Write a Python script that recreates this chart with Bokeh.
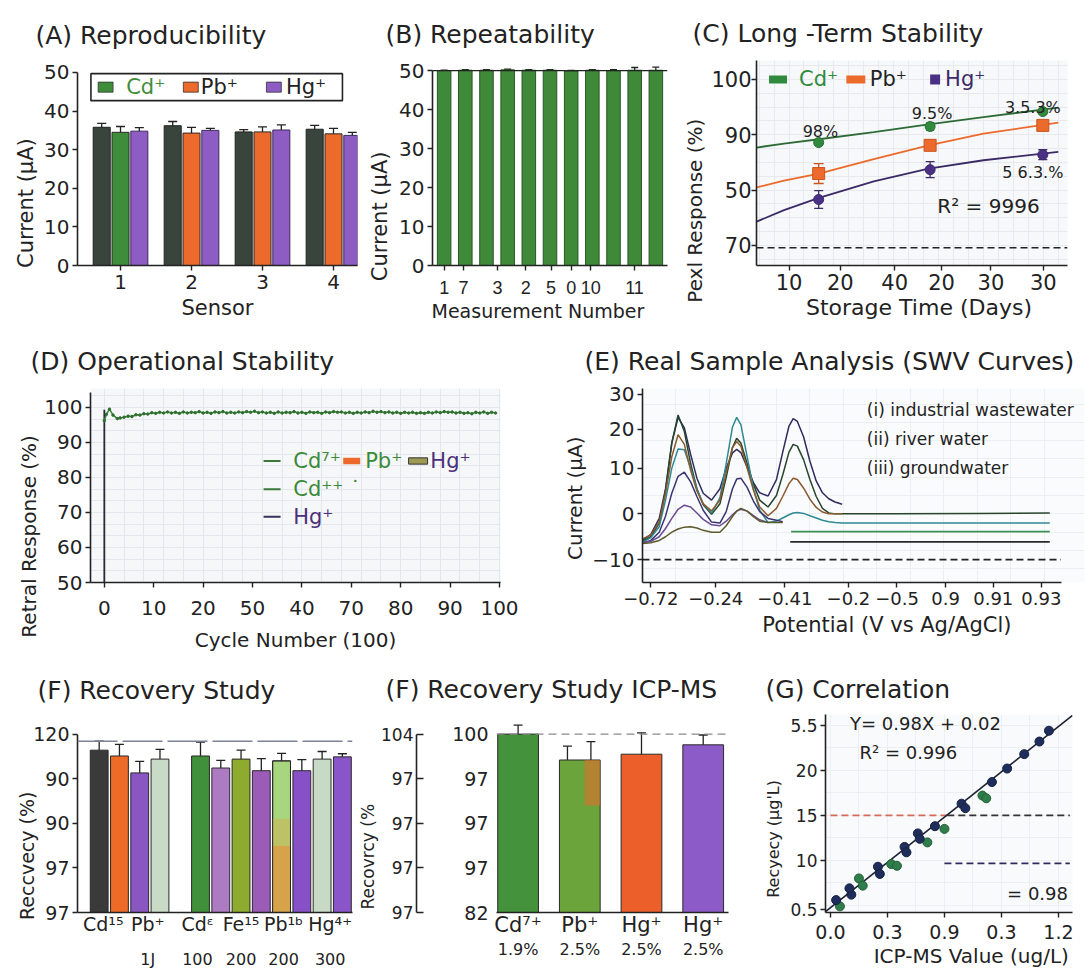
import numpy as np
from bokeh.plotting import figure
from bokeh.layouts import column, row
from bokeh.models import (Range1d, FixedTicker, SingleIntervalTicker, LinearAxis,
                          Whisker, TeeHead, ColumnDataSource, Span)
from bokeh.embed import file_html
from bokeh.resources import INLINE
from bokeh.core.properties import value

FONT = "DejaVu Sans"
INK = "#222222"
GREEN = "#3f8d3b"
DARK = "#39453c"
ORANGE = "#ec6a2b"
PURPLE = "#8e5dc4"
NB = "\u00a0"
MINUS = "\u2212"
nan = float("nan")

# ---------------- data ----------------
# (A) Reproducibility
a_sensor = [1, 2, 3, 4]
a_ref = [35.8, 36.2, 34.6, 35.3]
a_ref_err = [1.0, 1.1, 0.6, 1.0]
a_mid = [34.5, 34.3, 34.6, 34.1]
a_mid_err = [1.5, 1.5, 1.3, 1.4]
a_mid_colors = [GREEN, ORANGE, ORANGE, ORANGE]
a_hg = [34.8, 35.0, 35.1, 33.7]
a_hg_err = [0.9, 0.5, 1.3, 0.8]
a_legend = ["Cd\u207a", "Pb\u207a", "Hg\u207a"]

# (B) Repeatability
b_meas = list(range(1, 12))
b_cur = [50.0, 50.1, 50.1, 50.2, 50.1, 50.1, 49.9, 50.1, 50.0, 50.1, 50.1]
b_err = [0.15, 0.15, 0.15, 0.15, 0.15, 0.15, 0.15, 0.15, 0.25, 0.7, 0.8]
b_tick_pos = [1, 1.92, 3.52, 4.85, 6.05, 7.0, 7.93, 9.99]
b_tick_lab = ["1", "7", "3", "2", "5", "0", "10", "11"]

# (C) Long-term stability
c_days = [14.95, 37.3, 59.9]
c_cd = [88.6, 91.5, 94.2]
c_cd_err = [0.5, 0.7, 0.5]
c_pb = [83.0, 88.1, 91.7]
c_pb_err = [1.8, 0.9, 0.9]
c_hg = [78.3, 83.7, 86.4]
c_hg_err = [1.6, 1.45, 0.9]
c_fit_x = [2.5, 8, 15, 26, 37, 48, 63]
c_fit_cd = [87.7, 88.4, 89.2, 90.5, 91.9, 93.2, 94.9]
c_fit_pb = [80.5, 81.7, 83.0, 85.6, 88.1, 90.2, 92.2]
c_fit_hg = [74.3, 76.4, 78.6, 81.6, 83.9, 85.4, 86.9]
c_xticks = [9, 19.3, 30.2, 39.6, 49.5, 60]
c_xlabels = ["10", "20", "40", "20", "30", "30"]
c_yticks = [70, 80, 90, 100]
c_ylabels = ["70", "50", "90", "100"]
c_note_x = [15.3, 37.7, 57.9, 57.9]
c_note_y = [90.6, 93.9, 94.9, 83.2]
c_notes = ["98%", "9.5%", "3.5.3%", "5 6.3.%"]
c_legend = ["Cd\u207a", "Pb\u207a", "Hg\u207a"]

# (D) Operational stability
d_cycle = [0, 0.5, 1.3, 2.2, 3.3] + list(range(4, 100))
d_resp = [96.2, 98.0, 99.5, 97.8, 96.8,
          97.0, 97.2, 97.5, 97.4, 97.9, 97.8, 98.2, 98.1, 98.5, 98.3,
          98.6, 98.4, 98.7, 98.4, 98.6, 98.3, 98.7, 98.4, 98.6, 98.5,
          98.8, 98.4, 98.6, 98.3, 98.7, 98.5, 98.8, 98.4, 98.6, 98.4,
          98.7, 98.5, 98.8, 98.6, 98.9, 98.5, 98.7, 98.4, 98.6, 98.3,
          98.7, 98.4, 98.6, 98.5, 98.8, 98.4, 98.6, 98.3, 98.7, 98.5,
          98.6, 98.3, 98.7, 98.5, 98.8, 98.6, 98.7, 98.4, 98.6, 98.3,
          98.6, 98.4, 98.7, 98.5, 98.9, 98.6, 98.8, 98.5, 98.7, 98.4,
          98.6, 98.3, 98.6, 98.4, 98.6, 98.3, 98.5, 98.3, 98.6, 98.4,
          98.7, 98.5, 98.8, 98.6, 98.7, 98.4, 98.6, 98.3, 98.5, 98.2,
          98.6, 98.4, 98.7, 98.3, 98.6, 98.4]
d_drop_x = [0, 0]
d_drop_y = [50, 99.3]
d_xticks = [0, 12.5, 25, 37.5, 50, 62.5, 75, 87.5, 100]
d_xlabels = ["0", "10", "20", "50", "40", "70", "80", "90", "100"]
d_yticks = [50, 60, 70, 80, 90, 100]

# (E) SWV curves
e_pot = [0, 2, 4, 5.5, 7, 8.5, 10, 11.5, 13, 14.5, 16.5, 18.5, 20, 21.5, 22.5,
         23.5, 25, 26.5, 28, 30, 32, 33.5, 35, 36, 37, 38.5, 40, 41.5, 43, 44.5,
         46, 47.7, 60, 80, 97.3]
e_c1 = [-5.8, -4.5, -1.0, 5.5, 15.5, 21.1, 18.8, 13.0, 7.8, 4.5, 3.0, 5.5, 10.0, 13.3, 14.1,
        13.4, 10.2, 6.8, 4.6, 3.9, 7.5, 13.5, 19.2, 20.8, 20.2, 16.8, 11.5, 7.2, 4.6, 3.3,
        2.6, 2.1, nan, nan, nan]
e_c2 = [-6.0, -5.0, -2.0, 5.0, 15.5, 21.6, 18.0, 11.0, 5.5, 2.0, -0.1, 2.2, 8.0, 14.5, 16.5,
        15.5, 11.0, 6.5, 3.0, 1.5, 4.0, 8.5, 13.5, 15.2, 14.8, 11.8, 7.5, 3.8, 1.2, 0.2,
        0.0, 0.0, 0.0, 0.1, 0.2]
e_c3 = [-6.2, -5.2, -2.8, 3.0, 10.0, 14.2, 14.0, 10.0, 5.5, 2.2, 0.2, 3.5, 11.0, 19.0, 21.1,
        19.5, 12.5, 5.5, 0.8, -1.9, -1.6, -0.9, -0.2, 0.2, 0.3, 0.1, -0.4, -0.9, -1.4, -1.7,
        -1.9, -2.0, -2.0, -2.0, -2.0]
e_c4 = [-5.5, -4.6, -1.8, 4.5, 12.5, 17.3, 15.2, 9.5, 5.0, 2.2, 0.65, 3.0, 9.0, 14.5, 15.8,
        14.8, 10.0, 5.2, 1.5, -0.4, 1.2, 3.8, 6.6, 7.8, 7.5, 5.6, 3.2, 1.4, 0.4, 0.0,
        0.0, 0.0, nan, nan, nan]
e_c5 = [-6.4, -5.8, -4.0, -0.5, 4.5, 8.2, 9.1, 7.0, 3.8, 0.8, -1.8, -2.0, 0.5, 5.5, 7.6,
        7.8, 5.8, 2.8, 0.5, -1.0, -1.4, -1.7] + [nan] * 13
e_c6 = [-6.3, -6.0, -5.0, -3.2, -1.0, 1.0, 1.9, 1.5, 0.2, -1.2, -2.4, -2.6, -1.6, -0.2, 0.6,
        1.0, 0.6, -0.4, -1.3, -1.9] + [nan] * 15
e_c7 = [-6.5, -6.3, -5.8, -5.0, -4.0, -3.3, -2.9, -2.8, -3.1, -3.6, -4.0, -4.0, -2.6, -0.6, 0.6,
        1.2, 0.6, -0.6, -1.6, -1.9, -1.9, -1.9] + [nan] * 13
e_curves = [e_c1, e_c2, e_c3, e_c4, e_c5, e_c6, e_c7]
e_colors = ["#2e2b5f", "#27452d", "#2e8a94", "#8a5a2e", "#3c3470", "#6a4c92", "#5d5a2c"]
e_flat1_x = [35.5, 97.3]
e_flat1_y = [-3.9, -3.9]
e_flat2_x = [35.3, 97.3]
e_flat2_y = [-6.1, -6.1]
e_ref_x = [0, 100]
e_ref_y = [-10, -10]
e_xticks = [2, 17.5, 34, 49.2, 60.8, 72.4, 83.8, 95.3]
e_xlabels = [MINUS + "0.72", MINUS + "0.24", MINUS + "0.41", MINUS + "0.2", MINUS + "0.5",
             "0.9", "0.91", "0.93"]
e_yticks = [-10, 0, 10, 18.5, 26.1]
e_ylabels = [MINUS + "10", "0", "10", "20", "30"]
e_samples = ["(i) industrial wastewater", "(ii) river water", "(iii) groundwater"]

# (F) Recovery study
f_pos = [1, 2, 3, 4, 6, 7, 8, 9, 10, 11, 12, 13]
f_rec = [116.4, 115.1, 111.3, 114.4, 115.1, 112.4, 114.4, 111.8, 114.0, 111.8, 114.4, 114.9]
f_err = [2.0, 2.6, 2.6, 2.2, 3.1, 1.7, 2.0, 2.7, 1.7, 2.5, 1.7, 0.7]
f_colors = ["#3a3a3a", "#ee6a27", "#8a56c2", "#c7dbc7", "#3f8f3b", "#ad7bc2",
            "#8fab2f", "#9a5cb6", "#a7d67e", "#8850c6", "#c6dac6", "#8a55c8"]
f_xticks = [1.2, 3.4, 5.85, 8.0, 10.1, 12.4]
f_xlabels = ["Cd\u00b9\u2075", "Pb\u207a", "Cd\u1d4b", "Fe\u00b9\u2075", "Pb\u00b9\u1d47", "Hg\u2074\u207a"]
f_xticks2 = [3.4, 5.85, 8.0, 10.1, 12.4]
f_xlabels2 = ["1J", "100", "200", "200", "300"]
f_yticks = [80, 90, 100, 110, 120]
f_ylabels = ["97", "97", "90", "90", "120"]
f_ref = 118.4

# (F) Recovery study ICP-MS
f2_pos = [1, 2, 3, 4]
f2_rec = [120.0, 114.2, 115.5, 117.6]
f2_colors = ["#45923c", "#6aa43a", "#ec5f2a", "#8c5bc7"]
f2_err_x = [1, 1.8, 2.18, 3, 4]
f2_err_c = [120.3, 114.1, 115.0, 115.8, 117.6]
f2_err = [1.7, 3.2, 3.3, 4.5, 2.2]
f2_xlabels = ["Cd\u2077\u207a", "Pb\u207a", "Hg\u207a", "Hg\u207a"]
f2_xlabels2 = ["1.9%", "2.5%", "2.5%", "2.5%"]
f2_in_labels = ["82", "97", "97", "97", "100"]
f2_out_labels = ["97", "97", "97", "97", "104"]

# (G) Correlation
g_navy_x = [0.03, 0.11, 0.10, 0.25, 0.26, 0.39, 0.40, 0.46, 0.47, 0.55, 0.69, 0.71, 0.85, 0.93, 1.02, 1.10, 1.15]
g_navy_y = [5.6, 6.2, 6.9, 9.3, 8.5, 11.5, 10.9, 13.0, 12.4, 13.8, 16.3, 15.8, 18.7, 20.2, 21.8, 23.2, 24.4]
g_green_x = [0.05, 0.15, 0.17, 0.32, 0.35, 0.51, 0.60, 0.80, 0.82]
g_green_y = [4.9, 8.0, 7.2, 9.6, 9.4, 12.0, 13.5, 17.2, 16.9]
g_fit_x = [-0.026, 1.274]
g_fit_y = [4.33, 26.1]
g_xticks = [0, 0.3, 0.6, 0.9, 1.2]
g_xlabels = ["0.0", "0.3", "0.9", "0.3", "1.2"]
g_yticks = [4.56, 10, 15, 20, 25]
g_ylabels = ["0.5", "10", "15", "20", "5.5"]


# ---------------- helpers ----------------
def base_fig(w, h, xr, yr, borders, title, t_off, t_stand, bg="white"):
    bl, br, bt, bb = borders
    p = figure(width=w, height=h, x_range=Range1d(*xr), y_range=Range1d(*yr),
               output_backend="svg", toolbar_location=None,
               min_border_left=bl, min_border_right=br,
               min_border_top=bt, min_border_bottom=bb,
               background_fill_color=bg, border_fill_color="white")
    p.outline_line_color = None
    p.grid.grid_line_color = None
    t = p.title
    t.text = title
    t.text_font = FONT
    t.text_font_size = "25px"
    t.text_font_style = "normal"
    t.text_color = INK
    t.align = "left"
    t.offset = t_off
    t.standoff = t_stand
    return p


def style_axis(ax, fs="20px", tick_out=5, standoff=3, lab_fs="21px", lab_standoff=4, font=FONT):
    ax.axis_line_color = INK
    ax.axis_line_width = 1.6
    ax.major_tick_line_color = INK
    ax.major_tick_line_width = 1.4
    ax.major_tick_in = 0
    ax.major_tick_out = tick_out
    ax.minor_tick_line_color = None
    ax.major_label_text_font = font
    ax.major_label_text_font_size = fs
    ax.major_label_text_color = INK
    ax.major_label_standoff = standoff
    ax.axis_label_text_font = FONT
    ax.axis_label_text_font_size = lab_fs
    ax.axis_label_text_font_style = "normal"
    ax.axis_label_text_color = INK
    ax.axis_label_standoff = lab_standoff


def set_ticks(ax, ticks, labels=None):
    ax.ticker = FixedTicker(ticks=list(ticks))
    if labels is not None:
        ax.major_label_overrides = {t: l for t, l in zip(ticks, labels)}


def errbars(p, x, y, e, color=INK, head=8, width=1.3):
    src = ColumnDataSource(dict(base=list(x),
                                upper=[a + b for a, b in zip(y, e)],
                                lower=[a - b for a, b in zip(y, e)]))
    w = Whisker(base="base", upper="upper", lower="lower", source=src,
                line_color=color, line_width=width,
                upper_head=TeeHead(size=head, line_color=color, line_width=width),
                lower_head=TeeHead(size=head, line_color=color, line_width=width))
    p.add_layout(w)


def txt(p, xs, ys, texts, size="20px", color=INK, align="left"):
    p.text(x=list(xs), y=list(ys), text=list(texts), text_font=value(FONT),
           text_font_size=size, text_color=color, text_align=align,
           text_baseline="middle")


def faint_grid(p, xi, yi, color="#e6e8ee"):
    p.xgrid.ticker = SingleIntervalTicker(interval=xi)
    p.ygrid.ticker = SingleIntervalTicker(interval=yi)
    p.xgrid.grid_line_color = color
    p.ygrid.grid_line_color = color
    p.xgrid.grid_line_width = 1
    p.ygrid.grid_line_width = 1


# ---------------- (A) ----------------
pA = base_fig(365, 330, (0.394, 4.338), (0, 53.1), (77, 8, 60, 65), "(A) Reproducibility", -42, 22)
xa, ya = pA.xaxis[0], pA.yaxis[0]
style_axis(xa, "20px", 5, 4, "21px", 4)
style_axis(ya, "20px", 5, 3, "21px", 3)
set_ticks(xa, a_sensor)
set_ticks(ya, [0, 10, 20, 30, 40, 50])
ya.bounds = (0, 50)
xa.axis_label = "Sensor"
ya.axis_label = "Current (\u03bcA)" + NB * 12
off, bw = 0.265, 0.24
pA.vbar(x=[s - off for s in a_sensor], top=a_ref, width=bw, fill_color=DARK, line_color="#1d231e", line_width=1)
pA.vbar(x=a_sensor, top=a_mid, width=bw, fill_color=a_mid_colors, line_color="#2a2a2a", line_width=1)
pA.vbar(x=[s + off for s in a_sensor], top=a_hg, width=bw, fill_color=PURPLE, line_color="#3b2a5a", line_width=1)
errbars(pA, [s - off for s in a_sensor], a_ref, a_ref_err, head=9)
errbars(pA, a_sensor, a_mid, a_mid_err, head=9)
errbars(pA, [s + off for s in a_sensor], a_hg, a_hg_err, head=9)
pA.quad(left=[0.583], right=[4.126], bottom=[42.7], top=[49.7], fill_color="white",
        line_color=INK, line_width=1.6)
pA.rect(x=[0.79, 1.99, 3.16], y=[46.2] * 3, width=0.21, height=2.6,
        fill_color=[GREEN, ORANGE, PURPLE], line_color="#333333", line_width=0.8)
txt(pA, [1.08, 2.13, 3.33], [46.2] * 3, a_legend, "21px", [GREEN, INK, INK])

# ---------------- (B) ----------------
pB = base_fig(315, 330, (0.45, 11.55), (0, 52.6), (60, 13, 60, 65), "(B) Repeatability", -47, 24)
xb, yb = pB.xaxis[0], pB.yaxis[0]
style_axis(xb, "18px", 5, 10, "19px", 3, font="Liberation Sans")
style_axis(yb, "20px", 5, 3, "21px", 4)
set_ticks(xb, b_tick_pos, b_tick_lab)
set_ticks(yb, [0, 10, 20, 30, 40, 50])
yb.bounds = (0, 50)
xb.axis_label = "Measurement Number" + NB * 4
yb.axis_label = "Current (\u03bcA)" + NB * 16
pB.vbar(x=b_meas, top=b_cur, width=0.64, fill_color="#3e8a38", line_color="#2a5527", line_width=1)
pB.add_layout(Span(location=50, dimension="width", line_color=INK, line_width=1.2))
errbars(pB, b_meas, b_cur, b_err, head=7)

# ---------------- (C) ----------------
pC = base_fig(408, 330, (2.48, 64.85), (66.38, 103.43), (72, 21, 60, 65),
              "(C) Long -Term Stability", -64, 26, bg="#f7f8fa")
faint_grid(pC, 3, 2.5, "#e7e9ee")
xc, yc = pC.xaxis[0], pC.yaxis[0]
style_axis(xc, "21px", 5, 3, "22px", 2)
style_axis(yc, "21px", 5, 0, "20px", 1)
set_ticks(xc, c_xticks, c_xlabels)
set_ticks(yc, c_yticks, c_ylabels)
xc.axis_label = NB * 2 + "Storage Time (Days)"
yc.axis_label = "Pexl Response (%)" + NB * 15
pC.add_layout(Span(location=69.6, dimension="width", line_color=INK, line_width=1.6, line_dash="7 4"))
pC.line(c_fit_x, c_fit_cd, line_color="#2d6b35", line_width=1.8)
pC.line(c_fit_x, c_fit_pb, line_color=ORANGE, line_width=1.8)
pC.line(c_fit_x, c_fit_hg, line_color="#3b2a66", line_width=1.8)
errbars(pC, c_days, c_cd, c_cd_err, color="#2d6b35", head=8)
errbars(pC, c_days, c_pb, c_pb_err, color="#c9541f", head=10)
errbars(pC, c_days, c_hg, c_hg_err, color="#3b2a66", head=9)
pC.scatter(c_days, c_cd, marker="circle", size=10, fill_color="#2f8a3e", line_color="#2d6b35")
pC.scatter(c_days, c_pb, marker="square", size=12, fill_color=ORANGE, line_color="#c9541f")
pC.scatter(c_days, c_hg, marker="circle", size=10, fill_color="#4a2f86", line_color="#3b2a66")
txt(pC, c_note_x, c_note_y, c_notes, "16px", INK, "center")
txt(pC, [49.0], [77.2], ["R\u00b2 = 9996"], "20px", INK, "center")
pC.rect(x=[6.8, 22.4, 38.3], y=[100.0] * 3, width=[3.6, 3.8, 2.0], height=[1.45, 1.45, 1.8],
        fill_color=["#2f8a3e", ORANGE, "#4a2f86"], line_color=None)
txt(pC, [11, 25.2, 40.3], [100.0] * 3, c_legend, "21px", ["#2f8a3e", INK, "#3b2a66"])

# ---------------- (D) ----------------
pD = base_fig(560, 330, (-3.5, 100.25), (50, 105.4), (90, 60, 58, 78),
              "(D) Operational Stability", -60, 26, bg="#f6f7f9")
faint_grid(pD, 5, 10 / 3, "#e3e6ec")
xd, yd = pD.xaxis[0], pD.yaxis[0]
style_axis(xd, "20px", 5, 13, "20px", 10)
style_axis(yd, "20px", 5, 3, "20px", 0)
set_ticks(xd, d_xticks, d_xlabels)
set_ticks(yd, d_yticks)
yd.bounds = (50, 104.3)
xd.axis_label = "Cycle Number (100)"
yd.axis_label = "Retral Response (%)" + NB * 16
pD.line(d_drop_x, d_drop_y, line_color="#2b2838", line_width=1.8)
pD.line(d_cycle, d_resp, line_color="#3c8a3c", line_width=1.6)
pD.scatter(d_cycle, d_resp, size=2.5, color="#2f6e2f")
pD.segment(x0=[40.3] * 3, x1=[44.6] * 3, y0=[84.7, 76.6, 68.8], y1=[84.7, 76.6, 68.8],
           line_color=["#3a7a3a", "#3a7a3a", "#3a2f5a"], line_width=2)
pD.rect(x=[62.6, 79.4], y=[84.7, 84.7], width=[4.3, 4.8], height=1.8,
        fill_color=[ORANGE, "#9c9a52"], line_color=[None, "#333333"])
txt(pD, [47.8, 66.0, 82.5, 47.8, 47.8], [84.7, 84.7, 84.7, 76.6, 68.8],
    ["Cd\u2077\u207a", "Pb\u207a", "Hg\u207a", "Cd\u207a\u207a \u02d9", "Hg\u207a"], "21px",
    ["#3a8a3a", "#3a8a3a", "#4a2f7a", "#3a8a3a", "#4a2f7a"])

# ---------------- (E) ----------------
pE = base_fig(528, 330, (0, 105.6), (-15.0, 27.4), (73, 4, 58, 78),
              "(E) Real Sample Analysis (SWV Curves)", -58, 25, bg="#fafbfc")
faint_grid(pE, 8, 4, "#eceef2")
xe, ye = pE.xaxis[0], pE.yaxis[0]
style_axis(xe, "18px", 5, 4, "21px", 5)
style_axis(ye, "20px", 5, 3, "20px", 2)
set_ticks(xe, e_xticks, e_xlabels)
set_ticks(ye, e_yticks, e_ylabels)
xe.bounds = (0, 100)
xe.axis_label = NB * 7 + "Potential (V vs Ag/AgCl)"
ye.axis_label = "Current (\u03bcA)" + NB * 4
pE.line(e_ref_x, e_ref_y, line_color=INK, line_width=1.6, line_dash="7 4")
pE.line(e_flat1_x, e_flat1_y, line_color="#3b8f55", line_width=1.8)
pE.line(e_flat2_x, e_flat2_y, line_color="#2a2a2a", line_width=1.8)
e_x_arr = np.array(e_pot, dtype=float)
for yv, col in zip(e_curves, e_colors):
    pE.line(e_x_arr, np.array(yv, dtype=float), line_color=col, line_width=1.5)
txt(pE, [53.6] * 3, [22.8, 16.3, 10.0], e_samples, "17px", INK, "left")

# ---------------- (F) ----------------
pF = base_fig(355, 312, (-0.07, 13.5), (80, 124.4), (77, 3, 54, 60), "(F) Recovery Study", -40, 20)
xf, yf = pF.xaxis[0], pF.yaxis[0]
style_axis(xf, "19px", 0, 0, "19px", 0)
style_axis(yf, "19px", 5, 3, "19px", -8)
set_ticks(xf, f_xticks, f_xlabels)
set_ticks(yf, f_yticks, f_ylabels)
yf.bounds = (80, 120)
yf.axis_label = "Reccvecy  (%)" + NB * 13
xf2 = LinearAxis()
style_axis(xf2, "16px", 0, 12, "16px", 0)
set_ticks(xf2, f_xticks2, f_xlabels2)
xf2.axis_line_color = None
xf2.major_tick_line_color = None
pF.add_layout(xf2, "below")
pF.add_layout(Span(location=f_ref, dimension="width", line_color="#7d8296", line_width=1.3, line_dash="40 5"))
pF.vbar(x=f_pos, top=f_rec, bottom=80, width=0.88, fill_color=f_colors, line_color="#2a2a2a", line_width=1)
i9 = 8
pF.quad(left=[f_pos[i9] - 0.44] * 2, right=[f_pos[i9] + 0.44] * 2, bottom=[80, 95], top=[95, 101],
        fill_color=["#d6a24a", "#bdc267"], line_color=None)
pF.vbar(x=[f_pos[i9]], top=[f_rec[i9]], bottom=80, width=0.88, fill_color=None, line_color="#2a2a2a", line_width=1)
errbars(pF, f_pos, f_rec, f_err, head=9)

# ---------------- (F) ICP-MS ----------------
pG2 = base_fig(375, 312, (0.65, 4.41), (80, 124.4), (141, 2, 54, 60), "(F) Recovery Study ICP-MS", -111, 22)
xg2, yin = pG2.xaxis[0], pG2.yaxis[0]
style_axis(xg2, "21px", 0, 0, "19px", 0)
set_ticks(xg2, f2_pos, f2_xlabels)
style_axis(yin, "19px", 0, 8, "18px", 9)
set_ticks(yin, f_yticks, f2_in_labels)
yin.axis_line_color = None
yin.major_tick_line_color = None
yin.axis_label = NB
yout = LinearAxis()
style_axis(yout, "17px", 0, 3, "17px", 0)
yout.major_tick_in = 7
set_ticks(yout, f_yticks, f2_out_labels)
yout.bounds = (80, 120)
yout.axis_label = "Recovrcy (%" + NB * 16
pG2.add_layout(yout, "left")
xg2b = LinearAxis()
style_axis(xg2b, "16px", 0, 0, "16px", 0)
set_ticks(xg2b, f2_pos, f2_xlabels2)
xg2b.axis_line_color = None
xg2b.major_tick_line_color = None
pG2.add_layout(xg2b, "below")
pG2.add_layout(Span(location=120, dimension="width", line_color="#8a8a8a", line_width=1.3, line_dash="8 5"))
pG2.vbar(x=f2_pos, top=f2_rec, bottom=80, width=0.66, fill_color=f2_colors, line_color="#2a2a2a", line_width=1)
pG2.quad(left=[f2_pos[1] + 0.08], right=[f2_pos[1] + 0.33], bottom=[104], top=[f2_rec[1]],
         fill_color=ORANGE, fill_alpha=0.55, line_color=None)
errbars(pG2, f2_err_x, f2_err_c, f2_err, head=9)

# ---------------- (G) ----------------
pG = base_fig(358, 312, (-0.026, 1.274), (4.22, 26.2), (95, 16, 54, 60), "(G) Correlation", -60, 22,
              bg="#f9fafb")
faint_grid(pG, 0.15, 2.5, "#eceef2")
xg, yg = pG.xaxis[0], pG.yaxis[0]
style_axis(xg, "19px", 5, 7, "20px", 2)
style_axis(yg, "17px", 5, 3, "16px", 4)
set_ticks(xg, g_xticks, g_xlabels)
set_ticks(yg, g_yticks, g_ylabels)
xg.axis_label = NB * 7 + "ICP-MS Value (ug/L)"
yg.axis_label = "Recyecy (\u03bcg'L)" + NB * 10
pG.line([0, 0.615], [15, 15], line_color="#d46a5a", line_width=1.6, line_dash="7 4")
pG.line([0.615, 1.26], [15, 15], line_color="#333333", line_width=1.6, line_dash="7 4")
pG.line([0.6, 1.26], [9.67, 9.67], line_color="#2e2b5f", line_width=1.8, line_dash="7 4")
pG.line(g_fit_x, g_fit_y, line_color="#1c2233", line_width=1.6)
pG.scatter(g_green_x, g_green_y, size=9, fill_color="#2e7d4a", line_color="#245f3a")
pG.scatter(g_navy_x, g_navy_y, size=9, fill_color="#1f2d5c", line_color="#17213f")
txt(pG, [0.5], [25.2], ["Y= 0.98X + 0.02"], "18px", INK, "center")
txt(pG, [0.41], [22.0], ["R\u00b2 = 0.996"], "18px", INK, "center")
txt(pG, [1.09], [6.33], ["= 0.98"], "18px", INK, "center")

layout = column(row(pA, pB, pC), row(pD, pE), row(pF, pG2, pG))
open("out.html", "w").write(file_html(layout, INLINE, title="Sensor performance"))
